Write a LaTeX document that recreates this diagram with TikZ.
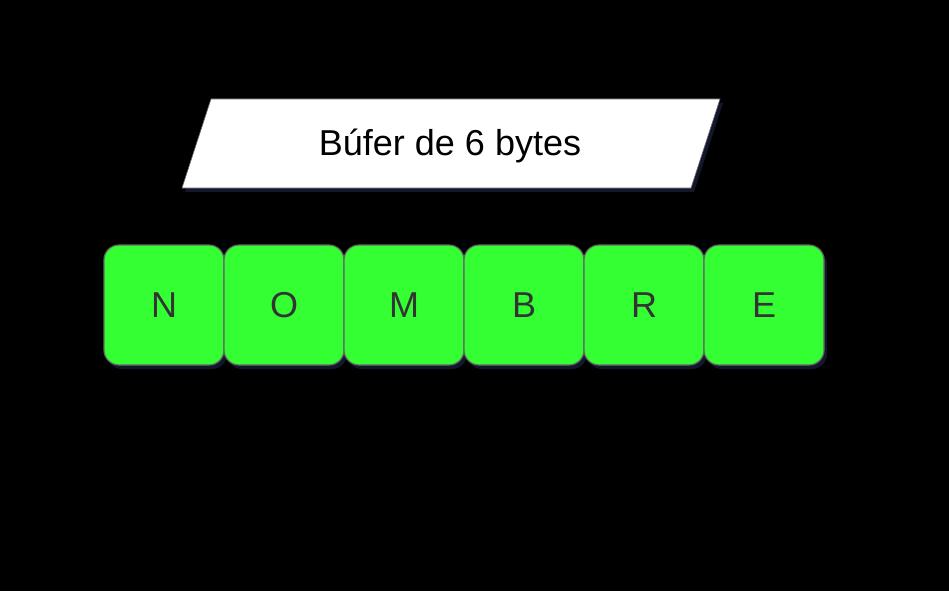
\documentclass[tikz,border=0pt]{standalone}
\usepackage{fontspec}
\setmainfont{Liberation Sans}
\usetikzlibrary{shadows}
\definecolor{cellgreen}{HTML}{33FF33}
\definecolor{celledge}{HTML}{666666}
\definecolor{celltext}{HTML}{333333}
\definecolor{glow}{HTML}{151A30}
\begin{document}
\begin{tikzpicture}[x=1pt,y=-1pt,
  glowshadow/.style={drop shadow={shadow xshift=3pt,shadow yshift=-4pt,fill=glow,opacity=0.9}},
  cell/.style={draw=celledge,line width=1.2pt,fill=cellgreen,rounded corners=15pt,
    minimum width=120pt,minimum height=120pt,inner sep=0pt,
    font=\fontsize{36}{42}\selectfont,text=celltext,glowshadow}
]
\fill[black] (0,0) rectangle (949,591);
\useasboundingbox (0,0) rectangle (949,591);
% title parallelogram
\path[fill=white,draw=celledge,line width=0.6pt,glowshadow] (211,99) -- (720,99) -- (691,188) -- (182,188) -- cycle;
\node[font=\fontsize{36}{42}\selectfont,text=black] (title) at (450,146) {Búfer de 6 bytes};
% cells
\node[cell] (c1) at (164,305) {N};
\node[cell] (c2) at (284,305) {O};
\node[cell] (c3) at (404,305) {M};
\node[cell] (c4) at (524,305) {B};
\node[cell] (c5) at (644,305) {R};
\node[cell] (c6) at (764,305) {E};
\end{tikzpicture}
\end{document}
